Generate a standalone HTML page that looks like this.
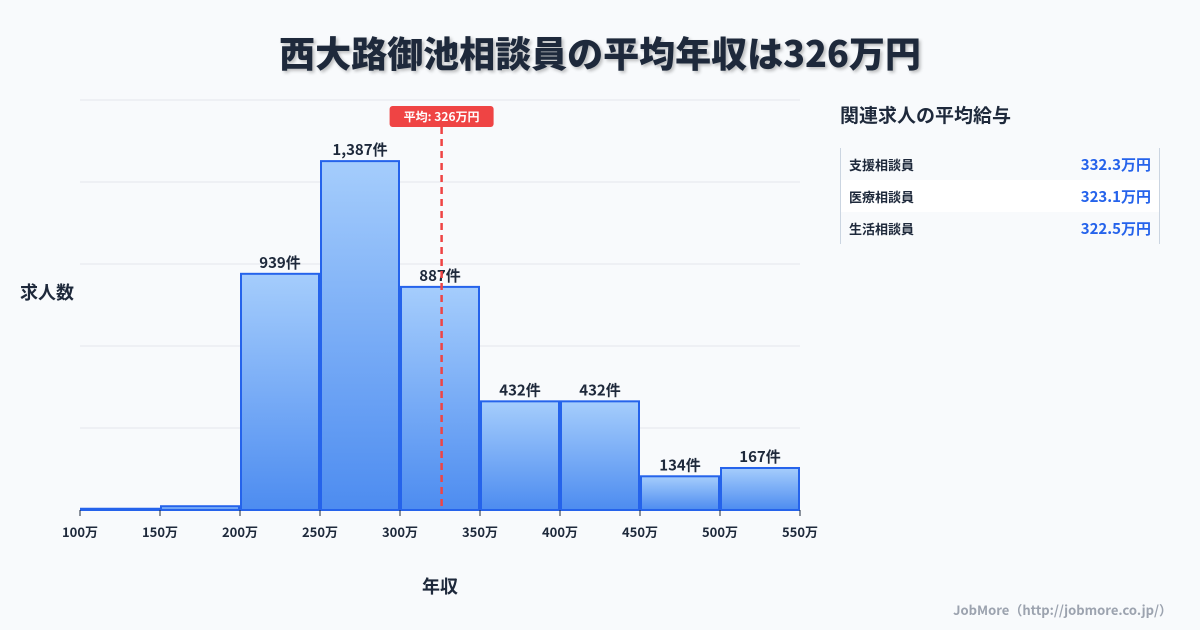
<!DOCTYPE html>
<html><head><meta charset="utf-8">
<style>
body{margin:0;width:1200px;height:630px;background:#f8fafc;font-family:"Noto Sans CJK JP","Liberation Sans",sans-serif;overflow:hidden;position:relative}
svg text{font-family:"Noto Sans CJK JP","Liberation Sans",sans-serif}
.t{position:absolute;left:0;width:1200px;top:26px;text-align:center;font-size:36px;line-height:52px;font-weight:900;color:#1e293b;text-shadow:2px 2px 3px rgba(0,0,0,0.25)}
.side{position:absolute;left:840px;top:100px;width:320px}
.side h2{margin:0 0 18px 0;font-size:19px;line-height:30px;font-weight:700;color:#1e293b}
.rows{border-left:1px solid #cbd5e1;border-right:1px solid #cbd5e1}
.row{display:flex;justify-content:space-between;align-items:center;height:32px;padding:0 8px 0 8px;font-size:13px;font-weight:700;color:#1e293b}
.row:nth-child(2){background:#fff}
.row span:last-child{color:#2563eb;font-size:15px}
.foot{position:absolute;right:28px;top:600px;font-size:13px;font-weight:700;color:#9ca3af}
</style></head><body>
<div class="t">西大路御池相談員の平均年収は326万円</div>
<svg id="c" width="1200" height="630" style="position:absolute;left:0;top:0">
<defs><linearGradient id="g" x1="0" y1="0" x2="0" y2="1"><stop offset="0" stop-color="#a5cdfc"/><stop offset="1" stop-color="#4d8cf0"/></linearGradient></defs>
</svg>
<div class="side">
<h2>関連求人の平均給与</h2>
<div class="rows">
<div class="row"><span>支援相談員</span><span>332.3万円</span></div>
<div class="row"><span>医療相談員</span><span>323.1万円</span></div>
<div class="row"><span>生活相談員</span><span>322.5万円</span></div>
</div></div>
<div class="foot">JobMore（http://jobmore.co.jp/）</div>
<script>
const binStarts=[100,150,200,250,300,350,400,450,500];
const counts=[5,15,939,1387,887,432,432,134,167];
const labels=["","","939件","1,387件","887件","432件","432件","134件","167件"];
const ticks=[100,150,200,250,300,350,400,450,500,550];
const meanVal=326;
const NS="http://www.w3.org/2000/svg";
const svg=document.getElementById('c');
const x0=80,x1=800,y0=510,yTop=100,yMax=1630;
const X=v=>x0+(v-100)/(550-100)*(x1-x0);
const Y=v=>y0-v/yMax*(y0-yTop);
function mk(t,a,p){const e=document.createElementNS(NS,t);for(const k in a)e.setAttribute(k,a[k]);(p||svg).appendChild(e);return e;}
for(let i=0;i<=5;i++){const gy=y0-i*(y0-yTop)/5;
const l=mk('line',{x1:x0,x2:x1,y1:gy,y2:gy,stroke:'#e5e7eb','stroke-width':1});

}
binStarts.forEach((b,i)=>{const xa=X(b)+1,xb=X(b+50)-1,yt=Y(counts[i]);
const r=mk('rect',{x:xa,y:yt,width:xb-xa,height:y0-yt,fill:'url(#g)',stroke:'#2563eb','stroke-width':2});


if(labels[i]){const t=mk('text',{x:(xa+xb)/2,y:yt-6,'text-anchor':'middle','font-size':15,'font-weight':700,fill:'#1e293b'});t.textContent=labels[i];

}});
ticks.forEach(v=>{const tx=X(v);
const l=mk('line',{x1:tx,x2:tx,y1:y0,y2:y0+6,stroke:'#1e293b','stroke-width':1});


const t=mk('text',{x:tx,y:y0+27,'text-anchor':'middle','font-size':13,'font-weight':700,fill:'#1e293b'});t.textContent=v+'万';

});
const mx=X(meanVal);
const ml=mk('line',{x1:mx,x2:mx,y1:127,y2:y0,stroke:'#ef4444','stroke-width':2.5,'stroke-dasharray':'7,5'});


const mb=mk('rect',{x:mx-52,y:106,width:104,height:21,rx:3,fill:'#ef4444'});


const mt=mk('text',{x:mx,y:121,'text-anchor':'middle','font-size':12,'font-weight':700,fill:'#fff'});mt.textContent='平均: '+meanVal+'万円';


const yt=mk('text',{x:20,y:299,'font-size':18,'font-weight':700,fill:'#1e293b'});yt.textContent='求人数';


const xt=mk('text',{x:440,y:593,'text-anchor':'middle','font-size':18,'font-weight':700,fill:'#1e293b'});xt.textContent='年収';


</script>
</body></html>
